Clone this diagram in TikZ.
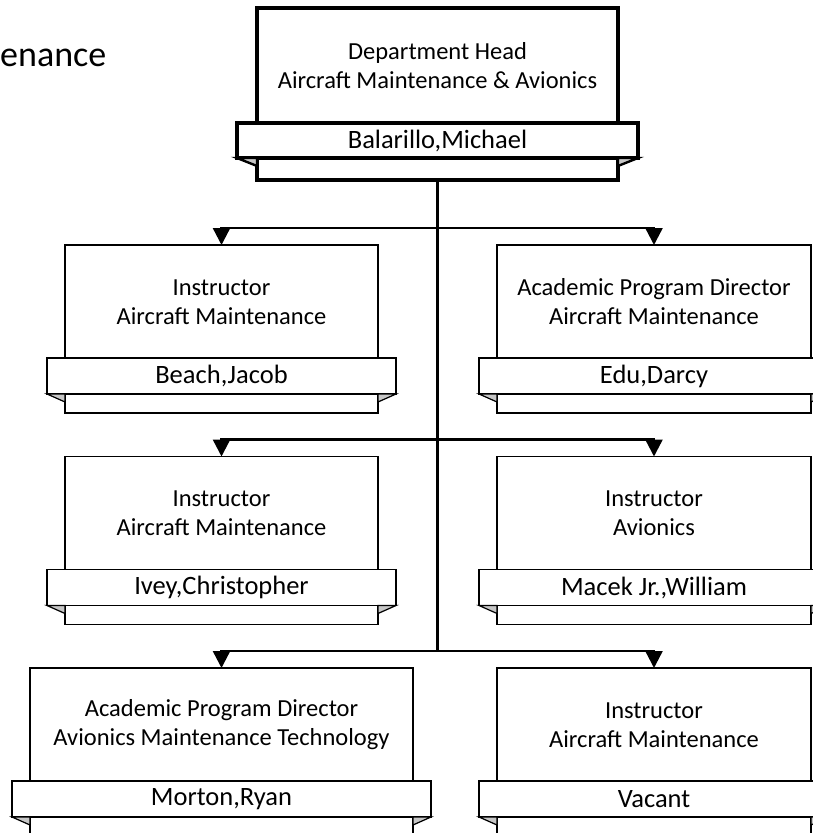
\documentclass[tikz,border=0pt]{standalone}
\usepackage{fontspec}
\setmainfont{Carlito}
\usetikzlibrary{arrows.meta}
\tikzset{
  boxst/.style={draw=black, line width=1.8bp, fill=white, rectangle, inner sep=0pt, outer sep=0pt, minimum height=168bp},
  ribst/.style={draw=black, line width=1.8bp, fill=white, rectangle, inner sep=0pt, outer sep=0pt, minimum height=36bp, font=\fontsize{26.5bp}{30bp}\selectfont},
  titlest/.style={align=center, inner sep=0pt, font=\fontsize{24.5bp}{29bp}\selectfont},
  foldst/.style={draw=black, line width=1.2bp, fill=black!22, line join=miter},
  conn/.style={draw=black, line width=2.4bp, -{Triangle[length=17bp,width=17bp]}},
  trunk/.style={draw=black, line width=2.4bp},
}
\newcommand\orgunit[7]{%
  \node[boxst, minimum width=#4bp, anchor=north] (#1) at (#2,#3) {};
  \node[ribst, minimum width=#4bp+2*#5bp, anchor=north] (#1r) at ([yshift=-113bp]#1.north) {#7};
  \node[titlest] (#1t) at ([yshift=-57bp]#1.north) {#6};
  \path[foldst] (#1r.south west) -- ([xshift=#5bp]#1r.south west) -- ([xshift=#5bp,yshift=-8bp]#1r.south west) -- cycle;
  \path[foldst] (#1r.south east) -- ([xshift=-#5bp]#1r.south east) -- ([xshift=-#5bp,yshift=-8bp]#1r.south east) -- cycle;
}
\begin{document}
\begin{tikzpicture}[x=1bp,y=-1bp]
\useasboundingbox (0,0) rectangle (813,833);
\clip (0,0) rectangle (813,833);
\fill[white] (0,0) rectangle (813,833);

% page title fragment
\node[anchor=base west, inner sep=0pt, font=\fontsize{36bp}{42bp}\selectfont] (ptitle) at (0,66) {enance};

% coordinates of the connector junctions
\coordinate (j1) at (437.5,228);
\coordinate (j2) at (437.5,439.5);
\coordinate (j3) at (437.5,651);

% top unit
\node[boxst, line width=3.8bp, minimum width=361bp, minimum height=172bp, anchor=north] (head) at (437.5,8) {};
\node[ribst, line width=3.8bp, minimum width=401bp, minimum height=35bp, anchor=north] (headr) at (437.5,123) {Balarillo,Michael};
\node[titlest] (headt) at (437.5,66) {Department Head\\Aircraft Maintenance \& Avionics};
\path[foldst, line width=2.4bp] (headr.south west) -- ([xshift=20bp]headr.south west) -- ([xshift=20bp,yshift=-8bp]headr.south west) -- cycle;
\path[foldst, line width=2.4bp] (headr.south east) -- ([xshift=-20bp]headr.south east) -- ([xshift=-20bp,yshift=-8bp]headr.south east) -- cycle;

% units
\orgunit{u1}{221.5}{245}{313}{18}{Instructor\\Aircraft Maintenance}{Beach,Jacob}
\orgunit{u2}{654}{245}{314}{18}{Academic Program Director\\Aircraft Maintenance}{Edu,Darcy}
\orgunit{u3}{221.5}{456.5}{313}{18}{Instructor\\Aircraft Maintenance}{Ivey,Christopher}
\orgunit{u4}{654}{456.5}{314}{18}{Instructor\\Avionics}{Macek Jr.,William}
\orgunit{u5}{221.5}{668}{383}{18}{Academic Program Director\\Avionics Maintenance Technology}{Morton,Ryan}
\orgunit{u6}{654}{668}{314}{18}{Instructor\\Aircraft Maintenance}{Vacant}

% connectors
\draw[trunk] (head.south) -- (j3);
\draw[conn] (j1) -| (u1.north);
\draw[conn] (j1) -| (u2.north);
\draw[conn] (j2) -| (u3.north);
\draw[conn] (j2) -| (u4.north);
\draw[conn] (j3) -| (u5.north);
\draw[conn] (j3) -| (u6.north);
\end{tikzpicture}
\end{document}
